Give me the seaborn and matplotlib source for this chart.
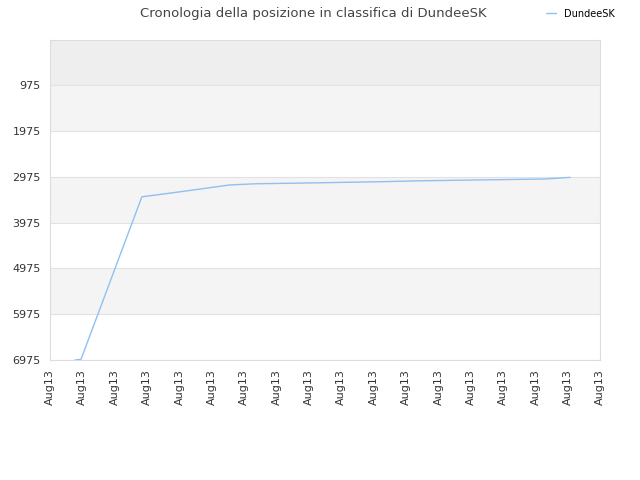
import matplotlib
matplotlib.use("Agg")
import matplotlib.pyplot as plt
import seaborn as sns
import pandas as pd

x_pos = [0.77, 0.96, 2.84, 4.02, 5.56, 6.34, 7.73, 8.96, 10.2, 11.44, 12.83, 13.9, 15.3, 16.07]
rank = [6975, 6960, 3410, 3300, 3150, 3125, 3110, 3095, 3080, 3060, 3045, 3035, 3020, 2985]
yticks = [975, 1975, 2975, 3975, 4975, 5975, 6975]
xlabels = ["Aug13"] * 18

sns.set_style("white")
plt.rcParams['font.family'] = ['DejaVu Sans']
fig = plt.figure(figsize=(6.4, 4.8), dpi=100)
ax = fig.add_axes([0.078, 0.25, 0.86, 0.667])
bands = [(0, 975, "#eeeeee"), (975, 1975, "#f4f4f4"), (1975, 2975, "#ffffff"),
         (2975, 3975, "#f4f4f4"), (3975, 4975, "#ffffff"), (4975, 5975, "#f4f4f4"),
         (5975, 6975, "#ffffff")]
for a, b, c in bands:
    ax.axhspan(a, b, color=c, zorder=0, lw=0)
for t in yticks:
    ax.axhline(t, color="#e2e2e2", lw=0.8, zorder=0.5)
df = pd.DataFrame({"x": x_pos, "y": rank})
sns.lineplot(data=df, x="x", y="y", ax=ax, color="#90c0f0", lw=1, label="DundeeSK")
ax.set_xlim(0, 17)
ax.set_ylim(6975, -20)
ax.set_yticks(yticks)
ax.set_yticklabels([str(t) for t in yticks], fontsize=8, color="#333333")
ax.set_xticks(range(18))
ax.set_xticklabels(xlabels, rotation=90, fontsize=8, color="#333333")
ax.set_xlabel(""); ax.set_ylabel("")
for s in ax.spines.values():
    s.set_color("#dddddd")
ax.tick_params(length=3, color="#cccccc")
fig.suptitle("Cronologia della posizione in classifica di DundeeSK", x=0.49, y=0.985, fontsize=9.5, color="#444444")
leg = ax.legend(loc="upper left", bbox_to_anchor=(0.84, 1.0), bbox_transform=fig.transFigure,
          frameon=False, fontsize=7, handlelength=1)
for t in leg.get_texts():
    t.set_color("black")
fig.savefig("out.png", dpi=100)
